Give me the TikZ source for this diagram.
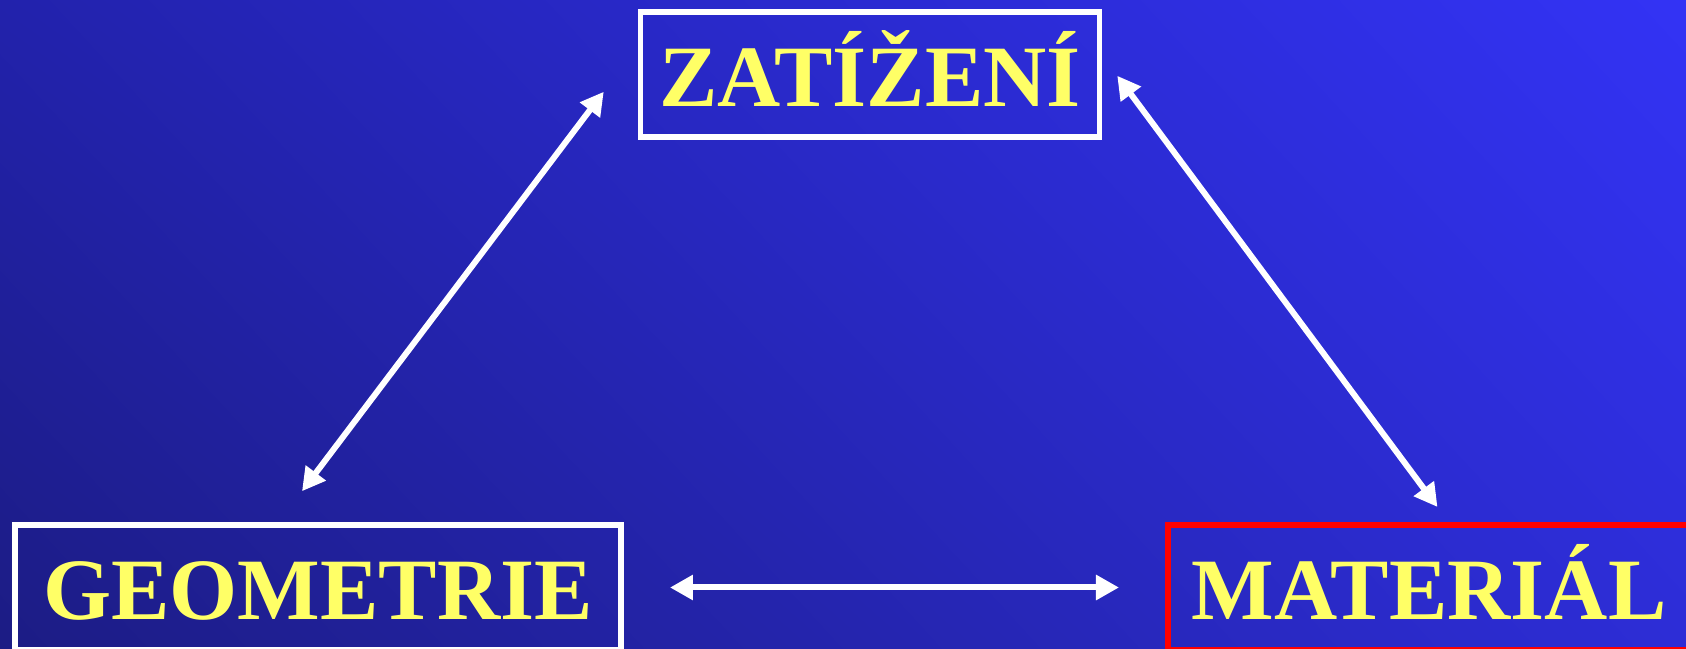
\documentclass[tikz,border=0pt]{standalone}
\usepackage{fontspec}
\setmainfont{Liberation Serif}
\usepackage{tikz}
\usetikzlibrary{arrows.meta,positioning,calc,shadings}
\definecolor{bgtopleft}{HTML}{2222AC}
\definecolor{bgtopright}{HTML}{3333F5}
\definecolor{bgbotleft}{HTML}{1C1C84}
\definecolor{bgbotright}{HTML}{2D2DD6}
\definecolor{labelyellow}{HTML}{FFFF66}
\definecolor{framered}{HTML}{FF0000}

\begin{document}
\begin{tikzpicture}[
  x=0.1mm, y=-0.1mm,
  box/.style={draw=white, rectangle, line width=0.55mm,
              minimum height=12.5mm, text height=6.3mm, text depth=0pt,
              font=\fontsize{24.9}{30}\selectfont\bfseries, text=labelyellow},
  arr/.style={{Triangle[length=2.3mm,width=2.4mm]}-{Triangle[length=2.3mm,width=2.4mm]},
              draw=white, line width=0.6mm},
  node distance=5cm
]
  %% Background
  \useasboundingbox (0,0) rectangle (1686,649);
  \clip (0,0) rectangle (1686,649);
  \shade[upper left=bgtopleft, upper right=bgtopright,
         lower left=bgbotleft, lower right=bgbotright]
    (0,0) rectangle (1686,649);

  %% Boxes
  \node[box, minimum width=45.9mm] (zat) at (870,74.75) {ZATÍŽENÍ};
  \node[box, minimum width=60.65mm] (geom) at (318,587.5) {GEOMETRIE};
  \node[box, draw=framered, line width=0.6mm, minimum width=52.2mm,
        right=54.1mm of geom] (mat) {MATERIÁL};

  %% Arrow ends
  \coordinate (zatL) at ($(zat.west)+(-34,17)$);
  \coordinate (zatR) at ($(zat.east)+(15,1)$);
  \coordinate (geomT) at ($(geom.north)+(-16,-31)$);
  \coordinate (matT) at ($(mat.north)+(8.5,-15)$);

  %% Arrows
  \draw[arr] (geomT) -- (zatL);
  \draw[arr] (zatR) -- (matT);
  \draw[arr, shorten <=4.6mm, shorten >=4.6mm] (geom) -- (mat);
\end{tikzpicture}
\end{document}
